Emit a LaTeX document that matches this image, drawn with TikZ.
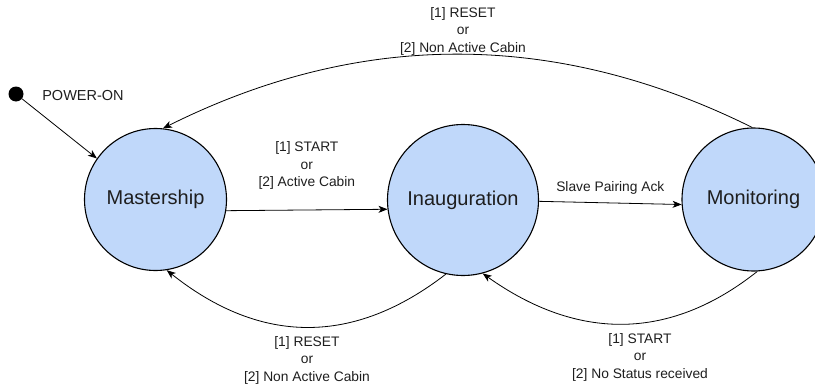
\documentclass[tikz,border=0pt]{standalone}
\usepackage{fontspec}
\setmainfont{Liberation Sans}
\usetikzlibrary{arrows.meta}
\definecolor{stfill}{RGB}{192,216,250}
\definecolor{txt}{RGB}{30,30,30}
\tikzset{
  state/.style={circle, draw=black, line width=1.1pt, fill=stfill, inner sep=0pt,
    text=txt, font=\fontsize{20}{22}\selectfont},
  lbl/.style={align=center, text=txt, inner sep=0pt, font=\fontsize{13.8}{17.5}\selectfont},
  conn/.style={draw=black, line width=0.8pt, -{Stealth[length=9pt,width=7pt,inset=2.5pt]}}
}
\begin{document}
\begin{tikzpicture}[x=1pt,y=-1pt]
\useasboundingbox (0,0) rectangle (815,388);
\node[state, minimum size=142pt] (mas) at (155.5,199.5) {Mastership};
\node[state, minimum size=151pt] (ina) at (463,200) {Inauguration};
\node[state, minimum size=143pt] (mon) at (753.5,199.5) {Monitoring};
\node[circle, fill=black, inner sep=0pt, minimum size=15pt] (init) at (16,94) {};
\node[lbl, font=\fontsize{14.5}{18}\selectfont] (pwr) at (83,96) {POWER-ON};

\draw[conn] (init) -- (mas.145);
\draw[conn] (mas.-9) -- node[lbl, above=20pt] {[1] START\\or\\{[2]} Active Cabin} (ina.187.5);
\draw[conn] (ina.-1.5) -- node[lbl, above=8pt] {Slave Pairing Ack} (mon.184.4);
\draw[conn] (mon.91) .. controls (556,30) and (360,30) .. (mas.84);
\node[lbl] (toplbl) at (463,31) {[1] RESET\\or\\{[2]} Non Active Cabin};
\draw[conn] (ina.257.5) .. controls (354,345.3) and (261,345.3) .. (mas.279.8);
\node[lbl] (bl) at (307,360) {[1] RESET\\or\\{[2]} Non Active Cabin};
\draw[conn] (mon.273.7) .. controls (669.3,341.3) and (577.3,340.7) .. (ina.285.6);
\node[lbl] (br) at (640,357) {[1] START\\or\\{[2]} No Status received};
\end{tikzpicture}
\end{document}
